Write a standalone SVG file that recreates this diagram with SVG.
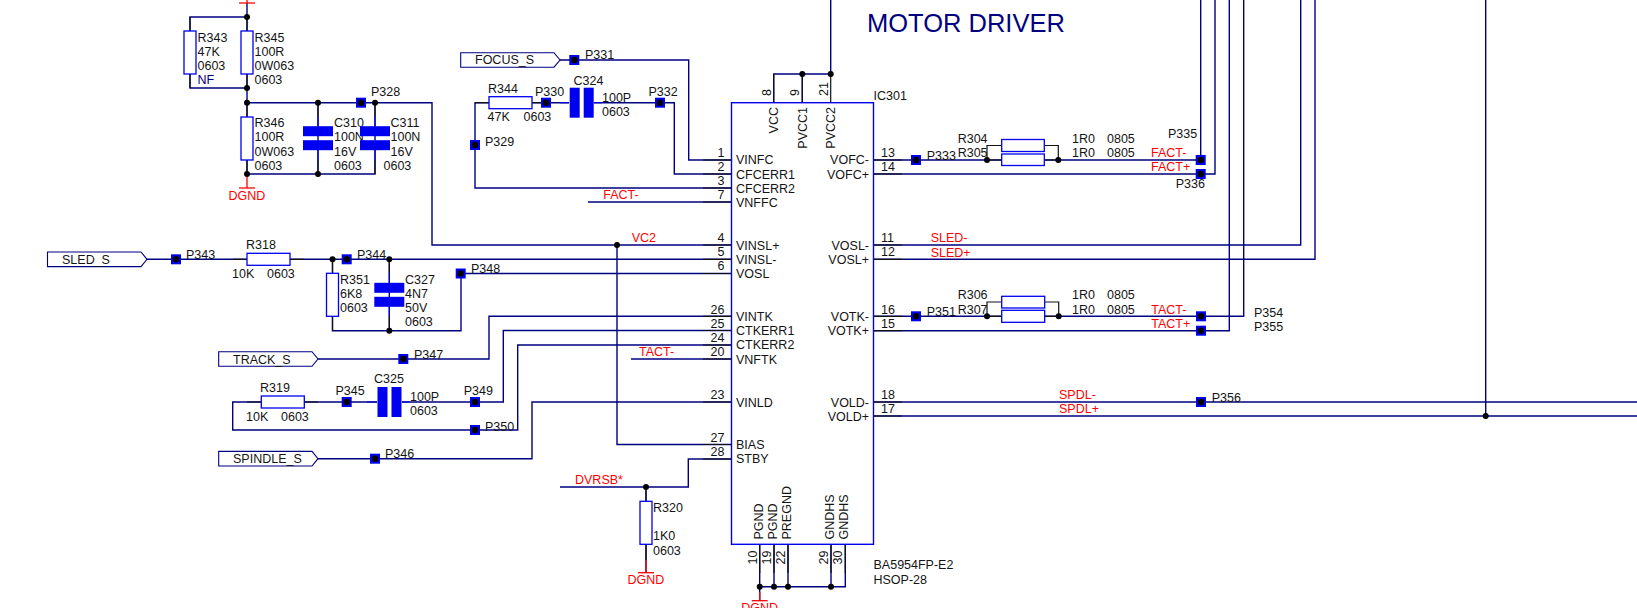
<svg xmlns="http://www.w3.org/2000/svg" xmlns:xlink="http://www.w3.org/1999/xlink" width="1637" height="608" viewBox="0 0 1637 608">
<style>
text{font-family:"Liberation Sans",Arial,sans-serif;font-size:12.5px;fill:#141414}
.r{fill:#ff0000}.n{fill:#000080}.e{text-anchor:end}.m{text-anchor:middle}
.w{fill:none;stroke:#000080;stroke-width:1.4}
.b{fill:none;stroke:#111;stroke-width:1.2}
.rl{fill:none;stroke:#f00;stroke-width:1.3}
.bl{fill:none;stroke:#0000e0;stroke-width:1.2}
.res{fill:#fff;stroke:#0000f0;stroke-width:1.3}
.plate{fill:#0000f0}
.tag{fill:#fff;stroke:#000080;stroke-width:1.1}
.ic{fill:#fff;stroke:#0000f0;stroke-width:1.4}
</style>
<defs>
<g id="pad"><rect x="-5" y="-5" width="10" height="10" fill="#0000f0"/><circle r="3.2" fill="#000"/></g>
<circle id="dot" r="3" fill="#000"/>
<rect id="rh" x="0" y="-6" width="43" height="12" class="res"/>
<rect id="rv" x="-6" y="0" width="12" height="43" class="res"/>
<g id="ch"><rect x="-15" y="-12" width="30" height="10" class="plate"/><rect x="-15" y="2" width="30" height="10" class="plate"/></g>
<g id="cv"><rect x="-12" y="-15" width="10" height="30" class="plate"/><rect x="2" y="-15" width="10" height="30" class="plate"/></g>
<path id="gnd" d="M-8 0H8" class="rl"/>
</defs>
<rect width="1637" height="608" fill="#fff"/>

<g id="connectors">
<path class="w" d="M830.7 0V74H773.7V102.7M802.3 74V102.7"/>
<path class="w" d="M247 3V17H190V88H247V17M247 88V174H375V102.7M247 102.7H432V245H731"/>
<path class="w" d="M318 102.7V174"/>
<path class="w" d="M560 60H688.7V160H731"/>
<path class="w" d="M731 188H475V102.7H489M532 102.7H569M594 102.7H674.3V174H731"/>
<path class="w" d="M588 202H731"/>
<path class="w" d="M147 259.3H247M290 259.3H731"/>
<path class="w" d="M332.5 259.3V330.7H461V273.5H731M389.3 259.3V330.7"/>
<path class="w" d="M318 359H489V316.3H731"/>
<path class="w" d="M304 402H377M402 402H503.3V330.5H731"/>
<path class="w" d="M261 402H232.7V430H517.7V345H731"/>
<path class="w" d="M318 458.7H532V402H731"/>
<path class="w" d="M617 245V444.5H731"/>
<path class="w" d="M631 359H731"/>
<path class="w" d="M731 459H688.3V487H560M646 487V501M646 544V572"/>
<path class="w" d="M759.7 544.3V600M774 544.3V586.7M788 544.3V586.7M831 544.3V586.7M759.7 586.7H845.3V544.3"/>
<path class="w" d="M873.5 160H1001.7M1044 160H1200.7V0"/>
<path class="w" d="M873.5 174H1215V0"/>
<path class="w" d="M873.5 245H1300.7V0"/>
<path class="w" d="M873.5 259.3H1315V0"/>
<path class="w" d="M873.5 316.3H1243.7V0"/>
<path class="w" d="M873.5 330.7H1229.3V0"/>
<path class="w" d="M873.5 402H1637"/>
<path class="w" d="M873.5 416H1637"/>
<path class="w" d="M1485.7 0V416"/>
<path class="b" d="M703 160H731M703 174H731M703 188H731M703 202H731M703 245H731M703 259.3H731M703 273.5H731M703 316.3H731M703 330.5H731M703 345H731M703 359H731M703 402H731M703 444.5H731M703 459H731"/>
<path class="b" d="M873.5 160H902M873.5 174H902M873.5 245H902M873.5 259.3H902M873.5 316.3H902M873.5 330.7H902M873.5 402H902M873.5 416H902"/>
<path class="b" d="M773.7 74V102.7M802.3 74V102.7M830.7 74V102.7M759.7 544.3V573M774 544.3V573M788 544.3V573M831 544.3V573M845.3 544.3V573"/>
<path class="b" d="M987 160V145.5H1001.7M1044 145.5H1058.3V160M987 160H1001.7M1044 160H1058.3"/>
<path class="b" d="M987 316.3V302H1001.7M1044.7 302H1058.7V316.3M987 316.3H1001.7M1044.7 316.3H1058.7"/>
<path class="b" d="M475 102.7H489M532 102.7H546M233 259.3H247M290 259.3H304M247 17V31M247 74V88M190 74V88M190 17V31M247 102.7V117M247 160V174M318 102.7V117M375 102.7V117M318 160V174M375 160V174M332.5 259.3V273M332.5 316.3V330.7M389.3 259.3V273M389.3 316V330.7M247 402H261M304 402H318M646 487V501M646 544V560"/>
<path class="bl" d="M318 117V126M318 150V160M375 117V126M375 150V160M389.3 273V283M389.3 307V316M560 102.7H569M594 102.7H602M367 402H377M402 402H410"/>
<path class="rl" d="M247 0V3M247 174V188M646 560V572.7M759.7 592V600.7"/>
</g>

<g id="IC301">
<rect class="ic" x="731.5" y="102.7" width="142" height="441.6"/>
<text x="873.5" y="100">IC301</text>
<text x="873.5" y="569.3">BA5954FP-E2</text><text x="873.5" y="583.5">HSOP-28</text>
<g>
<text x="736" y="164.3">VINFC</text><text x="736" y="178.5">CFCERR1</text><text x="736" y="192.5">CFCERR2</text><text x="736" y="206.5">VNFFC</text>
<text x="736" y="249.5">VINSL+</text><text x="736" y="263.5">VINSL-</text><text x="736" y="278">VOSL</text>
<text x="736" y="320.5">VINTK</text><text x="736" y="335">CTKERR1</text><text x="736" y="349">CTKERR2</text><text x="736" y="363.5">VNFTK</text>
<text x="736" y="406.5">VINLD</text><text x="736" y="449">BIAS</text><text x="736" y="463">STBY</text>
</g>
<g class="nums">
<text class="e" x="724.5" y="157">1</text><text class="e" x="724.5" y="171">2</text><text class="e" x="724.5" y="185">3</text><text class="e" x="724.5" y="199">7</text>
<text class="e" x="724.5" y="242">4</text><text class="e" x="724.5" y="256">5</text><text class="e" x="724.5" y="270">6</text>
<text class="e" x="724.5" y="313.5">26</text><text class="e" x="724.5" y="327.5">25</text><text class="e" x="724.5" y="342">24</text><text class="e" x="724.5" y="356">20</text>
<text class="e" x="724.5" y="399">23</text><text class="e" x="724.5" y="441.5">27</text><text class="e" x="724.5" y="456">28</text>
</g>
<g>
<text class="e" x="869" y="164.3">VOFC-</text><text class="e" x="869" y="178.5">VOFC+</text>
<text class="e" x="869" y="249.5">VOSL-</text><text class="e" x="869" y="263.5">VOSL+</text>
<text class="e" x="869" y="320.5">VOTK-</text><text class="e" x="869" y="335">VOTK+</text>
<text class="e" x="869" y="406.5">VOLD-</text><text class="e" x="869" y="420.7">VOLD+</text>
</g>
<g>
<text x="881" y="157">13</text><text x="881" y="171">14</text><text x="881" y="242">11</text><text x="881" y="256">12</text>
<text x="881" y="313.5">16</text><text x="881" y="327.5">15</text><text x="881" y="399">18</text><text x="881" y="413">17</text>
</g>
<text class="e" transform="translate(778 107) rotate(-90)">VCC</text>
<text class="e" transform="translate(806.7 107) rotate(-90)">PVCC1</text>
<text class="e" transform="translate(835 107) rotate(-90)">PVCC2</text>
<text transform="translate(771 96) rotate(-90)">8</text>
<text transform="translate(799.3 96) rotate(-90)">9</text>
<text transform="translate(827.7 96) rotate(-90)">21</text>
<text transform="translate(762.7 539.5) rotate(-90)">PGND</text>
<text transform="translate(777 539.5) rotate(-90)">PGND</text>
<text transform="translate(791 539.5) rotate(-90)">PREGND</text>
<text transform="translate(833.7 539.5) rotate(-90)">GNDHS</text>
<text transform="translate(848 539.5) rotate(-90)">GNDHS</text>
<text transform="translate(756.7 564.5) rotate(-90)">10</text>
<text transform="translate(771 564.5) rotate(-90)">19</text>
<text transform="translate(785 564.5) rotate(-90)">22</text>
<text transform="translate(828 564.5) rotate(-90)">29</text>
<text transform="translate(842 564.5) rotate(-90)">30</text>
</g>

<g id="title"><text x="867" y="32" class="n" style="font-size:25.5px">MOTOR DRIVER</text></g>

<g id="R343"><use xlink:href="#rv" x="190" y="31"/><text x="197.5" y="42">R343</text><text x="197.5" y="56">47K</text><text x="197.5" y="70">0603</text><text x="197.5" y="84" class="n">NF</text></g>
<g id="R345"><use xlink:href="#rv" x="247" y="31"/><text x="254.5" y="42">R345</text><text x="254.5" y="56">100R</text><text x="254.5" y="70">0W063</text><text x="254.5" y="84">0603</text></g>
<g id="R346"><use xlink:href="#rv" x="247" y="117"/><text x="254.5" y="127">R346</text><text x="254.5" y="141">100R</text><text x="254.5" y="155.5">0W063</text><text x="254.5" y="169.5">0603</text></g>
<g id="C310"><use xlink:href="#ch" x="318" y="138.2"/><text x="334" y="127">C310</text><text x="334" y="141">100N</text><text x="334" y="155.5">16V</text><text x="334" y="169.5">0603</text></g>
<g id="C311"><use xlink:href="#ch" x="375" y="138.2"/><text x="390.5" y="127">C311</text><text x="390.5" y="141">100N</text><text x="390.5" y="155.5">16V</text><text x="383.5" y="169.5">0603</text></g>
<g id="R344"><use xlink:href="#rh" x="489" y="102.7"/><text x="488" y="93">R344</text><text x="487.5" y="121">47K</text><text x="523.5" y="121">0603</text></g>
<g id="C324"><use xlink:href="#cv" x="581.7" y="102.7"/><text x="573.5" y="85">C324</text><text x="602" y="101.5">100P</text><text x="602" y="116">0603</text></g>
<g id="R318"><use xlink:href="#rh" x="247" y="259.3"/><text x="246" y="249.3">R318</text><text x="232" y="277.7">10K</text><text x="267" y="277.7">0603</text></g>
<g id="R351"><use xlink:href="#rv" x="332.5" y="273.3"/><text x="340" y="284">R351</text><text x="340" y="298">6K8</text><text x="340" y="312">0603</text></g>
<g id="C327"><use xlink:href="#ch" x="389.3" y="294.8"/><text x="405" y="284">C327</text><text x="405" y="298">4N7</text><text x="405" y="312">50V</text><text x="405" y="326">0603</text></g>
<g id="R319"><use xlink:href="#rh" x="261.3" y="402"/><text x="260" y="392">R319</text><text x="246" y="420.7">10K</text><text x="281" y="420.7">0603</text></g>
<g id="C325"><use xlink:href="#cv" x="389.5" y="402"/><text x="374" y="382.7">C325</text><text x="410" y="400.7">100P</text><text x="410" y="415">0603</text></g>
<g id="R320"><use xlink:href="#rv" x="646" y="501.3"/><text x="653" y="511.7">R320</text><text x="653" y="540">1K0</text><text x="653" y="554.7">0603</text></g>
<g id="R304"><rect class="res" x="1001.7" y="139.5" width="42.6" height="12"/><text x="957.7" y="142.5">R304</text><text x="1072" y="142.5">1R0</text><text x="1107" y="142.5">0805</text></g>
<g id="R305"><rect class="res" x="1001.7" y="154" width="42.6" height="11.5"/><text x="957.7" y="157">R305</text><text x="1072" y="157">1R0</text><text x="1107" y="157">0805</text></g>
<g id="R306"><rect class="res" x="1001.7" y="296.3" width="43" height="11.7"/><text x="957.7" y="299">R306</text><text x="1072" y="299">1R0</text><text x="1107" y="299">0805</text></g>
<g id="R307"><rect class="res" x="1001.7" y="310.3" width="43" height="12"/><text x="957.7" y="313.7">R307</text><text x="1072" y="313.7">1R0</text><text x="1107" y="313.7">0805</text></g>

<g id="FOCUS_S"><path class="tag" d="M460.7 52.7H554L560 60L554 67.2H460.7Z"/><text x="475" y="64">FOCUS_S</text></g>
<g id="SLED_S"><path class="tag" d="M47.5 252H141L147 259.3L141 266.6H47.5Z"/><text x="62" y="264">SLED_S</text></g>
<g id="TRACK_S"><path class="tag" d="M218.7 351.7H312L318 359L312 366.3H218.7Z"/><text x="233" y="363.5">TRACK_S</text></g>
<g id="SPINDLE_S"><path class="tag" d="M218.7 451.4H312L318 458.7L312 466H218.7Z"/><text x="233" y="463">SPINDLE_S</text></g>

<g id="pads">
<use xlink:href="#pad" x="361" y="102.7"/><text x="371" y="96">P328</text>
<use xlink:href="#pad" x="574.3" y="60"/><text x="585" y="59">P331</text>
<use xlink:href="#pad" x="546" y="102.7"/><text x="535" y="96">P330</text>
<use xlink:href="#pad" x="475" y="145"/><text x="485" y="145.5">P329</text>
<use xlink:href="#pad" x="660" y="102.7"/><text x="648.5" y="96">P332</text>
<use xlink:href="#pad" x="916" y="160"/><text x="926.7" y="160">P333</text>
<use xlink:href="#pad" x="1200.7" y="160"/><text x="1168" y="138">P335</text>
<use xlink:href="#pad" x="1200.7" y="174"/><text x="1175.7" y="188">P336</text>
<use xlink:href="#pad" x="176" y="259.3"/><text x="186" y="259">P343</text>
<use xlink:href="#pad" x="346.7" y="259.3"/><text x="357" y="259">P344</text>
<use xlink:href="#pad" x="460.7" y="273.5"/><text x="471" y="273.3">P348</text>
<use xlink:href="#pad" x="403.3" y="359"/><text x="414" y="359">P347</text>
<use xlink:href="#pad" x="346.7" y="402"/><text x="335.5" y="395">P345</text>
<use xlink:href="#pad" x="475" y="402"/><text x="463.7" y="395">P349</text>
<use xlink:href="#pad" x="475" y="430"/><text x="485" y="430.5">P350</text>
<use xlink:href="#pad" x="375" y="458.7"/><text x="385" y="458">P346</text>
<use xlink:href="#pad" x="916" y="316.3"/><text x="926.7" y="316">P351</text>
<use xlink:href="#pad" x="1201" y="316.3"/><text x="1254" y="316.7">P354</text>
<use xlink:href="#pad" x="1201" y="330.7"/><text x="1254" y="330.7">P355</text>
<use xlink:href="#pad" x="1201" y="402"/><text x="1211.7" y="401.7">P356</text>
</g>

<g id="junctions">
<use xlink:href="#dot" x="247" y="17"/><use xlink:href="#dot" x="247" y="88"/><use xlink:href="#dot" x="247" y="102.7"/><use xlink:href="#dot" x="247" y="174"/>
<use xlink:href="#dot" x="318" y="102.7"/><use xlink:href="#dot" x="375" y="102.7"/><use xlink:href="#dot" x="318" y="174"/>
<use xlink:href="#dot" x="802.3" y="74"/><use xlink:href="#dot" x="830.7" y="74"/>
<use xlink:href="#dot" x="332.5" y="259.3"/><use xlink:href="#dot" x="389.3" y="259.3"/><use xlink:href="#dot" x="389.3" y="330.7"/>
<use xlink:href="#dot" x="617" y="245"/><use xlink:href="#dot" x="646" y="487"/>
<use xlink:href="#dot" x="759.7" y="586.7"/><use xlink:href="#dot" x="774" y="586.7"/><use xlink:href="#dot" x="788" y="586.7"/><use xlink:href="#dot" x="831" y="586.7"/>
<use xlink:href="#dot" x="987" y="160"/><use xlink:href="#dot" x="1058.3" y="160"/><use xlink:href="#dot" x="987" y="316.3"/><use xlink:href="#dot" x="1058.7" y="316.3"/>
<use xlink:href="#dot" x="1485.7" y="416"/>
</g>

<g id="nets">
<use xlink:href="#gnd" x="247" y="3"/><use xlink:href="#gnd" x="247" y="188"/><use xlink:href="#gnd" x="646" y="572.7"/><use xlink:href="#gnd" x="759.7" y="600.7"/>
<text class="r m" x="247" y="199.5">DGND</text><text class="r m" x="646" y="583.5">DGND</text><text class="r m" x="759.7" y="612">DGND</text>
<text class="r" x="603.3" y="199">FACT-</text><text class="r" x="631.7" y="241.7">VC2</text><text class="r" x="639" y="355.7">TACT-</text><text class="r" x="575" y="484.3">DVRSB*</text>
<text class="r" x="1151" y="157">FACT-</text><text class="r" x="1151" y="171">FACT+</text>
<text class="r" x="930.7" y="241.7">SLED-</text><text class="r" x="930.7" y="256.5">SLED+</text>
<text class="r" x="1151.3" y="313.7">TACT-</text><text class="r" x="1151.3" y="327.7">TACT+</text>
<text class="r" x="1059" y="398.7">SPDL-</text><text class="r" x="1059" y="412.7">SPDL+</text>
</g>
</svg>
